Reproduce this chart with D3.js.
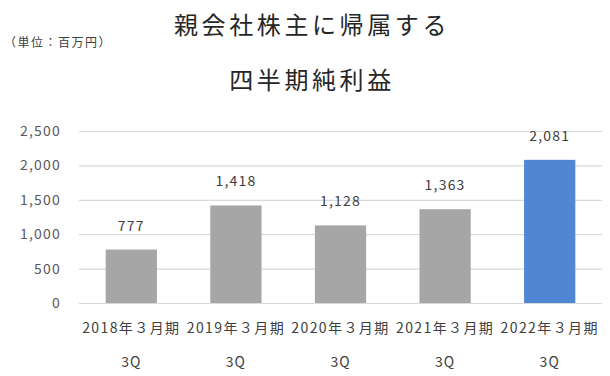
<!DOCTYPE html>
<html>
<head>
<meta charset="utf-8">
<script src="https://cdn.jsdelivr.net/npm/d3@7"></script>
<style>
  body { margin: 0; background: #fff; }
  svg { font-family: "Noto Sans CJK JP", "Noto Sans", sans-serif; }
</style>
</head>
<body>
<svg width="610" height="376"></svg>
<script>
const periods = ["2018年３月期", "2019年３月期", "2020年３月期", "2021年３月期", "2022年３月期"];
const quarterLabel = "3Q";
const profits = [777, 1418, 1128, 1363, 2081];
const yTicks = [0, 500, 1000, 1500, 2000, 2500];
const titleLines = ["親会社株主に帰属する", "四半期純利益"];
const unitLabel = "（単位：百万円）";

const svg = d3.select("svg");
const plotLeft = 79, plotRight = 602, plotTop = 131, plotBottom = 303;

const x = d3.scaleBand().domain(periods).range([plotLeft, plotRight]).paddingInner(0.51).paddingOuter(0.255);
const y = d3.scaleLinear().domain([0, 2500]).range([plotBottom, plotTop]);

// gridlines
svg.append("g").selectAll("line").data(yTicks).enter().append("line")
    .attr("x1", plotLeft).attr("x2", plotRight)
    .attr("y1", d => y(d) + 0.5).attr("y2", d => y(d) + 0.5)
    .attr("stroke", "#d9d9d9").attr("stroke-width", 1.2);

// y tick labels
svg.append("g").selectAll("text").data(yTicks).enter().append("text")
    .attr("x", 61).attr("y", d => y(d))
    .attr("dy", "0.36em").attr("text-anchor", "end")
    .attr("font-size", 14).attr("letter-spacing", 1.2).attr("fill", "#595959")
    .text(d => d3.format(",")(d));

// bars
svg.append("g").selectAll("rect").data(profits).enter().append("rect")
    .attr("x", (d, i) => x(periods[i]))
    .attr("width", x.bandwidth())
    .attr("y", d => y(d))
    .attr("height", d => y(0) - y(d))
    .attr("fill", (d, i) => i === profits.length - 1 ? "#4f87d5" : "#a6a6a6");

// value labels
svg.append("g").selectAll("text").data(profits).enter().append("text")
    .attr("x", (d, i) => x(periods[i]) + x.bandwidth() / 2)
    .attr("y", d => y(d) - 24)
    .attr("dy", "0.36em").attr("text-anchor", "middle")
    .attr("font-size", 14).attr("letter-spacing", 1.2).attr("fill", "#404040")
    .text(d => d3.format(",")(d));

// category labels
const cat = svg.append("g").selectAll("g").data(periods).enter().append("g")
    .attr("transform", d => `translate(${x(d) + x.bandwidth() / 2},0)`);
cat.append("text").attr("y", 328).attr("dy", "0.36em")
    .attr("text-anchor", "middle").attr("font-size", 14).attr("fill", "#404040")
    .attr("letter-spacing", 1.4)
    .text(d => d);
cat.append("text").attr("y", 362).attr("dy", "0.36em")
    .attr("text-anchor", "middle").attr("font-size", 14).attr("fill", "#404040")
    .attr("letter-spacing", 1)
    .text(quarterLabel);

// titles
svg.selectAll(".title").data(titleLines).enter().append("text")
    .attr("class", "title")
    .attr("x", 312).attr("y", (d, i) => i === 0 ? 25 : 80)
    .attr("dy", "0.36em").attr("text-anchor", "middle")
    .attr("font-size", 24).attr("letter-spacing", 3.6).attr("fill", "#262626")
    .text(d => d);

svg.append("text").attr("x", 4).attr("y", 43).attr("dy", "0.36em")
    .attr("font-size", 12).attr("letter-spacing", 1.5).attr("fill", "#404040")
    .text(unitLabel);
</script>
</body>
</html>
